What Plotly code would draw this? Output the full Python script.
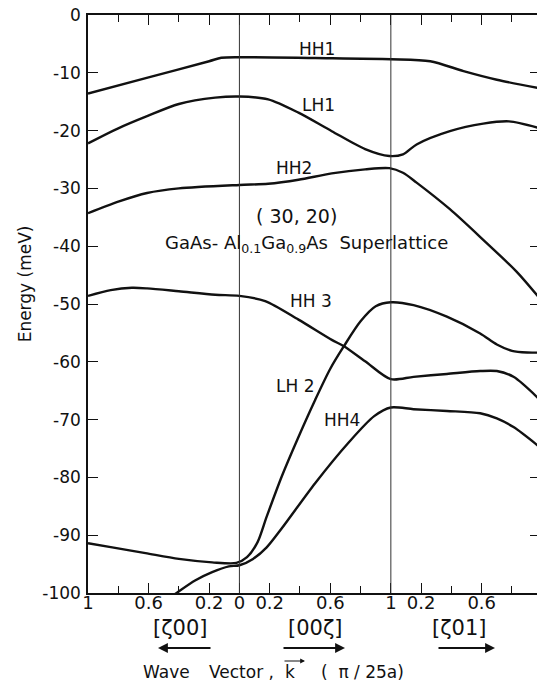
import plotly.graph_objects as go

# Wave-vector coordinate u: [zeta00] reversed on 0..1, [00zeta] on 1..2, [zeta01] on 2..3
HH1_u = [0, 0.4, 0.8, 0.88, 1.0, 1.5, 2.0, 2.26, 2.48, 2.70, 2.985]
HH1_e = [-13.6, -10.8, -8.0, -7.4, -7.3, -7.45, -7.65, -8.0, -9.7, -11.2, -12.7]

LH1_u = [0, 0.2, 0.39, 0.6, 0.84, 1.0, 1.19, 1.39, 1.61, 1.83, 1.99, 2.08, 2.17, 2.39, 2.61, 2.78, 2.985]
LH1_e = [-22.2, -19.6, -17.5, -15.4, -14.3, -14.1, -14.6, -16.9, -20.1, -23.2, -24.4, -24.1, -22.4, -20.1, -18.8, -18.4, -19.6]

HH2_u = [0, 0.2, 0.39, 0.6, 1.0, 1.19, 1.39, 1.61, 1.83, 1.99, 2.08, 2.17, 2.39, 2.61, 2.83, 2.985]
HH2_e = [-34.3, -32.3, -30.8, -30.0, -29.4, -29.2, -28.5, -27.4, -26.7, -26.5, -27.3, -29.0, -33.6, -38.9, -44.4, -49.1]

HH3_u = [0, 0.15, 0.29, 0.39, 0.6, 0.84, 1.0, 1.17, 1.39, 1.61, 1.69, 1.83, 2.0, 2.15, 2.37, 2.59, 2.70, 2.81, 2.985]
HH3_e = [-48.6, -47.6, -47.2, -47.3, -47.8, -48.4, -48.6, -49.5, -52.7, -56.2, -57.3, -59.9, -63.0, -62.6, -62.1, -61.6, -61.6, -62.6, -66.6]

LH2_u = [0, 0.16, 0.38, 0.60, 0.82, 0.98, 1.05, 1.12, 1.18, 1.28, 1.39, 1.50, 1.60, 1.69, 1.80, 1.90, 2.0, 2.15, 2.37, 2.59, 2.70, 2.80, 2.90, 2.985]
LH2_e = [-91.4, -92.1, -93.1, -94.1, -94.7, -94.8, -93.8, -91.2, -86.8, -79.8, -73.0, -66.6, -61.2, -57.3, -53.0, -50.4, -49.7, -50.2, -52.2, -55.1, -57.0, -58.1, -58.4, -58.4]

HH4_u = [0.50, 0.59, 0.71, 0.82, 0.93, 1.0, 1.09, 1.18, 1.28, 1.50, 1.72, 1.89, 2.0, 2.15, 2.37, 2.59, 2.70, 2.81, 2.985]
HH4_e = [-101.6, -99.9, -97.8, -96.4, -95.4, -95.2, -94.1, -92.1, -88.8, -81.0, -74.0, -69.4, -67.9, -68.2, -68.5, -68.9, -69.8, -71.3, -74.8]

x_tickvals = [0, 0.4, 0.8, 1.0, 1.2, 1.6, 2.0, 2.2, 2.6]
x_ticktext = ["1", "0.6", "0.2", "0", "0.2", "0.6", "1", "0.2", "0.6"]
y_tickvals = [0, -10, -20, -30, -40, -50, -60, -70, -80, -90, -100]
y_ticktext = ["0", "-10", "-20", "-30", "-40", "-50", "-60", "-70", "-80", "-90", "-100"]

band_labels = [("HH1", 1.515, -5.9), ("LH1", 1.52, -15.5), ("HH2", 1.36, -26.5),
               ("HH 3", 1.475, -49.4), ("LH 2", 1.37, -64.1), ("HH4", 1.68, -70.0)]
direction_labels = ["[ζ00]", "[00ζ]", "[ζ01]"]

INK = "#111111"
FONT = "DejaVu Sans"
W, H = 540, 683
ML, MR, MT, MB = 88, 0, 15, 90
XMAX = 2.985
PXU = (W - ML - MR) / XMAX          # pixels per unit of u
PH = H - MT - MB                    # plot height in px


def U(px):        # page pixel x -> u
    return (px - ML) / PXU


def PY(py):       # page pixel y -> paper y
    return (H - MB - py) / PH


fig = go.Figure()
for u, e in [(HH1_u, HH1_e), (LH1_u, LH1_e), (HH2_u, HH2_e), (HH3_u, HH3_e),
             (LH2_u, LH2_e), (HH4_u, HH4_e)]:
    fig.add_trace(go.Scatter(x=u, y=e, mode="lines",
                             line=dict(color=INK, width=2.4, shape="spline", smoothing=0.8),
                             showlegend=False, hoverinfo="skip"))

for xv in [1, 2]:
    fig.add_shape(type="line", xref="x", yref="paper", x0=xv, x1=xv, y0=0, y1=1,
                  line=dict(color="#333", width=1))

ann = []
for txt, xu, ye in band_labels:
    ann.append(dict(x=xu, y=ye, xref="x", yref="y", text=txt, showarrow=False,
                    font=dict(size=17, color=INK, family=FONT)))
ann.append(dict(x=1.38, y=-34.8, xref="x", yref="y", text="( 30, 20)", showarrow=False,
                font=dict(size=19, color=INK, family=FONT)))
ann.append(dict(x=1.44, y=-39.6, xref="x", yref="y",
                text="GaAs- Al<sub>0.1</sub>Ga<sub>0.9</sub>As  Superlattice", showarrow=False,
                font=dict(size=18, color=INK, family=FONT)))
ann.append(dict(x=(25 - ML) / (W - ML - MR), y=-46.6, xref="paper", yref="y",
                xanchor="center", yanchor="middle", text="Energy (meV)", textangle=-90,
                showarrow=False, font=dict(size=17, color=INK, family=FONT)))
for txt, cx in zip(direction_labels, [180, 315, 459.5]):
    ann.append(dict(x=U(cx), y=PY(628), xref="x", yref="paper", xanchor="center",
                    yanchor="middle", text=txt, showarrow=False,
                    font=dict(size=21, color=INK, family=FONT)))
for head, tail in [(158, 212), (345, 282), (495, 437)]:
    ann.append(dict(x=U(head), y=PY(648), xref="x", yref="paper", ax=U(tail), ay=0,
                    axref="x", ayref="pixel", text="", showarrow=True, arrowhead=2,
                    arrowsize=1.1, arrowwidth=1.8, arrowcolor=INK))
# axis caption pieces
cap = dict(size=17, color=INK, family=FONT)
ann.append(dict(x=U(141), y=PY(672), xref="x", yref="paper", xanchor="left", yanchor="middle",
                text="Wave", showarrow=False, font=cap))
ann.append(dict(x=U(207), y=PY(672), xref="x", yref="paper", xanchor="left", yanchor="middle",
                text="Vector ,", showarrow=False, font=cap))
ann.append(dict(x=U(290), y=PY(672), xref="x", yref="paper", xanchor="center", yanchor="middle",
                text="k", showarrow=False, font=cap))
ann.append(dict(x=U(305), y=PY(661), xref="x", yref="paper", ax=U(283), ay=0,
                axref="x", ayref="pixel", text="", showarrow=True, arrowhead=2,
                arrowsize=0.8, arrowwidth=1.2, arrowcolor=INK))
ann.append(dict(x=U(319), y=PY(672), xref="x", yref="paper", xanchor="left", yanchor="middle",
                text="(  π / 25a)", showarrow=False, font=cap))

fig.update_layout(
    width=W, height=H,
    margin=dict(l=ML, r=MR, t=MT, b=MB, autoexpand=False),
    paper_bgcolor="white", plot_bgcolor="white",
    annotations=ann,
    xaxis=dict(range=[0, XMAX], tickmode="array", tickvals=x_tickvals, ticktext=x_ticktext,
               ticks="inside", ticklen=10, tickwidth=1.3, tickcolor=INK,
               showline=True, linewidth=1.5, linecolor=INK, mirror="ticks",
               showgrid=False, zeroline=False, automargin=False, ticklabelstandoff=-7,
               tickfont=dict(size=18, color=INK, family=FONT),
               minor=dict(tick0=0, dtick=0.2, ticks="inside", ticklen=7, tickwidth=1.3,
                          tickcolor=INK, showgrid=False)),
    yaxis=dict(range=[-100, 0], tickmode="array", tickvals=y_tickvals, ticktext=y_ticktext,
               ticks="inside", ticklen=10, tickwidth=1.3, tickcolor=INK,
               showline=True, linewidth=1.5, linecolor=INK, mirror="ticks",
               showgrid=False, zeroline=False, automargin=False, ticklabelstandoff=2,
               tickfont=dict(size=17, color=INK, family=FONT)),
)

fig.write_html("out.html", config={"displayModeBar": False},
               post_script="document.body.style.margin='0';document.body.style.overflow='hidden';")
